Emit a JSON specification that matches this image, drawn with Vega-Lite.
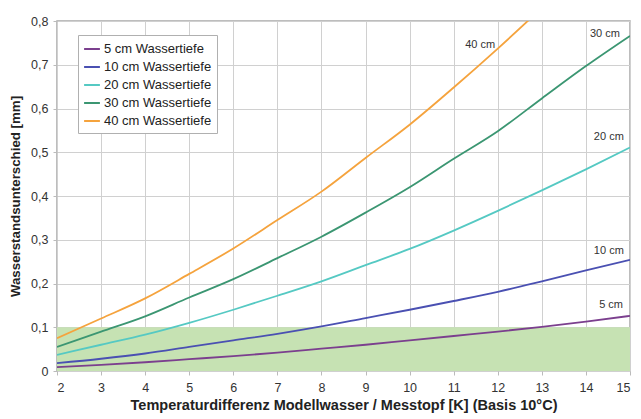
{
  "$schema": "https://vega.github.io/schema/vega-lite/v6.json",
  "width": 573,
  "height": 350,
  "autosize": {"type": "none"},
  "padding": {"left": 57, "top": 21, "right": 11, "bottom": 48},
  "background": "white",
  "config": {
    "font": "Liberation Sans",
    "view": {"stroke": "#a8a8a8", "strokeWidth": 1.5},
    "axis": {"gridColor": "#d0d0d0", "gridWidth": 1, "domain": false, "tickColor": "#bbb", "tickSize": 4, "labelColor": "#333", "labelFontSize": 12.5, "titleColor": "#222", "titleFontWeight": "bold"}
  },
  "datasets": {
    "band": [{"x0": 2, "x1": 15, "y0": 0, "y1": 0.1}],
    "curves": [
      {"t": "5 cm Wassertiefe", "x": 2, "y": 0.009}, {"t": "5 cm Wassertiefe", "x": 3, "y": 0.014}, {"t": "5 cm Wassertiefe", "x": 4, "y": 0.02}, {"t": "5 cm Wassertiefe", "x": 5, "y": 0.027}, {"t": "5 cm Wassertiefe", "x": 6, "y": 0.034}, {"t": "5 cm Wassertiefe", "x": 7, "y": 0.042}, {"t": "5 cm Wassertiefe", "x": 8, "y": 0.051}, {"t": "5 cm Wassertiefe", "x": 9, "y": 0.06}, {"t": "5 cm Wassertiefe", "x": 10, "y": 0.07}, {"t": "5 cm Wassertiefe", "x": 11, "y": 0.08}, {"t": "5 cm Wassertiefe", "x": 12, "y": 0.09}, {"t": "5 cm Wassertiefe", "x": 13, "y": 0.101}, {"t": "5 cm Wassertiefe", "x": 14, "y": 0.113}, {"t": "5 cm Wassertiefe", "x": 15, "y": 0.126},
      {"t": "10 cm Wassertiefe", "x": 2, "y": 0.018}, {"t": "10 cm Wassertiefe", "x": 3, "y": 0.028}, {"t": "10 cm Wassertiefe", "x": 4, "y": 0.04}, {"t": "10 cm Wassertiefe", "x": 5, "y": 0.055}, {"t": "10 cm Wassertiefe", "x": 6, "y": 0.07}, {"t": "10 cm Wassertiefe", "x": 7, "y": 0.085}, {"t": "10 cm Wassertiefe", "x": 8, "y": 0.102}, {"t": "10 cm Wassertiefe", "x": 9, "y": 0.121}, {"t": "10 cm Wassertiefe", "x": 10, "y": 0.14}, {"t": "10 cm Wassertiefe", "x": 11, "y": 0.16}, {"t": "10 cm Wassertiefe", "x": 12, "y": 0.181}, {"t": "10 cm Wassertiefe", "x": 13, "y": 0.205}, {"t": "10 cm Wassertiefe", "x": 14, "y": 0.23}, {"t": "10 cm Wassertiefe", "x": 15, "y": 0.254},
      {"t": "20 cm Wassertiefe", "x": 2, "y": 0.037}, {"t": "20 cm Wassertiefe", "x": 3, "y": 0.06}, {"t": "20 cm Wassertiefe", "x": 4, "y": 0.083}, {"t": "20 cm Wassertiefe", "x": 5, "y": 0.11}, {"t": "20 cm Wassertiefe", "x": 6, "y": 0.14}, {"t": "20 cm Wassertiefe", "x": 7, "y": 0.172}, {"t": "20 cm Wassertiefe", "x": 8, "y": 0.205}, {"t": "20 cm Wassertiefe", "x": 9, "y": 0.242}, {"t": "20 cm Wassertiefe", "x": 10, "y": 0.279}, {"t": "20 cm Wassertiefe", "x": 11, "y": 0.321}, {"t": "20 cm Wassertiefe", "x": 12, "y": 0.366}, {"t": "20 cm Wassertiefe", "x": 13, "y": 0.413}, {"t": "20 cm Wassertiefe", "x": 14, "y": 0.461}, {"t": "20 cm Wassertiefe", "x": 15, "y": 0.511},
      {"t": "30 cm Wassertiefe", "x": 2, "y": 0.055}, {"t": "30 cm Wassertiefe", "x": 3, "y": 0.09}, {"t": "30 cm Wassertiefe", "x": 4, "y": 0.125}, {"t": "30 cm Wassertiefe", "x": 5, "y": 0.168}, {"t": "30 cm Wassertiefe", "x": 6, "y": 0.21}, {"t": "30 cm Wassertiefe", "x": 7, "y": 0.258}, {"t": "30 cm Wassertiefe", "x": 8, "y": 0.307}, {"t": "30 cm Wassertiefe", "x": 9, "y": 0.362}, {"t": "30 cm Wassertiefe", "x": 10, "y": 0.42}, {"t": "30 cm Wassertiefe", "x": 11, "y": 0.485}, {"t": "30 cm Wassertiefe", "x": 12, "y": 0.548}, {"t": "30 cm Wassertiefe", "x": 13, "y": 0.623}, {"t": "30 cm Wassertiefe", "x": 14, "y": 0.697}, {"t": "30 cm Wassertiefe", "x": 15, "y": 0.766},
      {"t": "40 cm Wassertiefe", "x": 2, "y": 0.075}, {"t": "40 cm Wassertiefe", "x": 3, "y": 0.12}, {"t": "40 cm Wassertiefe", "x": 4, "y": 0.166}, {"t": "40 cm Wassertiefe", "x": 5, "y": 0.222}, {"t": "40 cm Wassertiefe", "x": 6, "y": 0.28}, {"t": "40 cm Wassertiefe", "x": 7, "y": 0.345}, {"t": "40 cm Wassertiefe", "x": 8, "y": 0.41}, {"t": "40 cm Wassertiefe", "x": 9, "y": 0.487}, {"t": "40 cm Wassertiefe", "x": 10, "y": 0.563}, {"t": "40 cm Wassertiefe", "x": 11, "y": 0.648}, {"t": "40 cm Wassertiefe", "x": 12, "y": 0.737}, {"t": "40 cm Wassertiefe", "x": 13, "y": 0.83}
    ],
    "labels": [
      {"label": "40 cm", "x": 11.6, "y": 0.745},
      {"label": "30 cm", "x": 14.43, "y": 0.77},
      {"label": "20 cm", "x": 14.52, "y": 0.535},
      {"label": "10 cm", "x": 14.52, "y": 0.274},
      {"label": "5 cm", "x": 14.57, "y": 0.151}
    ]
  },
  "layer": [
    {
      "data": {"name": "band"},
      "mark": {"type": "rect", "color": "#c6e2b3", "opacity": 1},
      "encoding": {
        "x": {"field": "x0", "type": "quantitative", "scale": {"domain": [2, 15], "nice": false}, "axis": {"values": [2,3,4,5,6,7,8,9,10,11,12,13,14,15], "title": "Temperaturdifferenz Modellwasser / Messtopf [K] (Basis 10°C)", "titleFontSize": 14.5, "titlePadding": 5, "labelPadding": 6}},
        "x2": {"field": "x1"},
        "y": {"field": "y0", "type": "quantitative", "scale": {"domain": [0, 0.8], "nice": false}, "axis": {"values": [0,0.1,0.2,0.3,0.4,0.5,0.6,0.7,0.8], "labelExpr": "datum.value == 0 ? '0' : replace(datum.label, '.', ',')", "title": "Wasserstandsunterschied [mm]", "titleFontSize": 13.3, "titlePadding": 8, "labelPadding": 5}},
        "y2": {"field": "y1"}
      }
    },
    {
      "data": {"name": "curves"},
      "mark": {"type": "line", "interpolate": "monotone", "strokeWidth": 1.8, "clip": true},
      "encoding": {
        "x": {"field": "x", "type": "quantitative"},
        "y": {"field": "y", "type": "quantitative"},
        "color": {
          "field": "t", "type": "nominal",
          "scale": {"domain": ["5 cm Wassertiefe", "10 cm Wassertiefe", "20 cm Wassertiefe", "30 cm Wassertiefe", "40 cm Wassertiefe"], "range": ["#7b3f8e", "#4a50b2", "#55c9c3", "#3b9672", "#f5a33d"]},
          "legend": {"title": null, "orient": "none", "legendX": 21, "legendY": 14, "fillColor": "white", "strokeColor": "#b0b0b0", "padding": 5, "symbolType": "stroke", "symbolSize": 250, "symbolStrokeWidth": 2, "labelFontSize": 13, "labelColor": "#222", "rowPadding": 2, "labelOffset": 3}
        }
      }
    },
    {
      "data": {"name": "labels"},
      "mark": {"type": "text", "fontSize": 11, "color": "#333", "align": "center", "baseline": "middle"},
      "encoding": {
        "x": {"field": "x", "type": "quantitative"},
        "y": {"field": "y", "type": "quantitative"},
        "text": {"field": "label"}
      }
    }
  ]
}
